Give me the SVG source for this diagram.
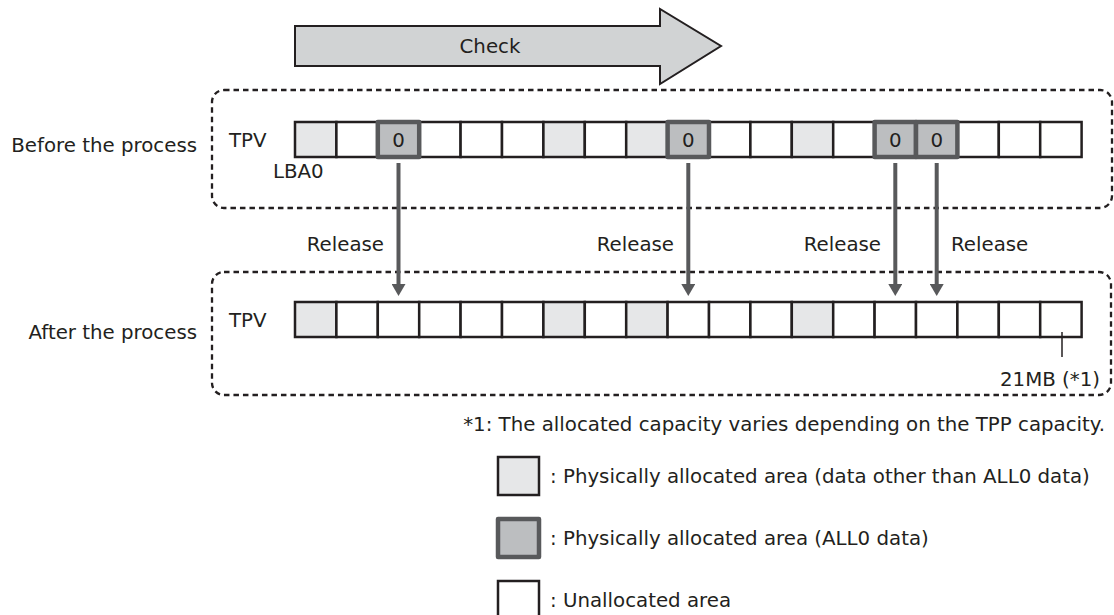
<svg xmlns="http://www.w3.org/2000/svg" width="1114" height="615" viewBox="0 0 1114 615">
  <defs>
    <style>
      text { font-family: "DejaVu Sans", "Noto Sans", sans-serif; font-size: 19.8px; fill: #231f20; }
      .mid { text-anchor: middle; }
      .end { text-anchor: end; }
      .frame { fill: none; stroke: #231f20; stroke-width: 2.3; stroke-dasharray: 5.5 4; }
      .cell { fill: #ffffff; stroke: #231f20; stroke-width: 2.5; }
      .data { fill: #e6e7e8; stroke: #231f20; stroke-width: 2.5; }
      .zero { fill: #bcbec0; stroke: #58595b; stroke-width: 4.5; stroke-linejoin: round; }
      .rel { stroke: #58595b; stroke-width: 4; fill: none; }
    </style>
    <marker id="head" markerUnits="userSpaceOnUse" markerWidth="12" markerHeight="14" refX="0" refY="7" orient="auto" viewBox="0 0 12 14">
      <path d="M0,0 L12,7 L0,14 Z" fill="#58595b"/>
    </marker>
  </defs>

  <!-- scan direction -->
  <g id="check">
    <polygon points="295,26 660,26 660,9 721,46 660,84 660,66 295,66" fill="#d1d3d4" stroke="#231f20" stroke-width="2"/>
    <text class="mid" x="490" y="53">Check</text>
  </g>

  <!-- volume before the release -->
  <g id="before">
    <rect class="frame" x="212" y="90" width="900" height="118" rx="12"/>
    <text class="end" x="197" y="152">Before the process</text>
    <text x="229" y="147">TPV</text>
    <text x="273" y="178">LBA0</text>
    <g>
      <rect class="data" x="295" y="122" width="41.4" height="35"/>
      <rect class="cell" x="336.4" y="122" width="41.4" height="35"/>
      <rect class="cell" x="419.2" y="122" width="41.4" height="35"/>
      <rect class="cell" x="460.6" y="122" width="41.4" height="35"/>
      <rect class="cell" x="502" y="122" width="41.4" height="35"/>
      <rect class="data" x="543.4" y="122" width="41.4" height="35"/>
      <rect class="cell" x="584.8" y="122" width="41.4" height="35"/>
      <rect class="data" x="626.2" y="122" width="41.4" height="35"/>
      <rect class="cell" x="709" y="122" width="41.4" height="35"/>
      <rect class="cell" x="750.4" y="122" width="41.4" height="35"/>
      <rect class="data" x="791.8" y="122" width="41.4" height="35"/>
      <rect class="cell" x="833.2" y="122" width="41.4" height="35"/>
      <rect class="cell" x="957.4" y="122" width="41.4" height="35"/>
      <rect class="cell" x="998.8" y="122" width="41.4" height="35"/>
      <rect class="cell" x="1040.2" y="122" width="41.4" height="35"/>
      <rect class="zero" x="377.8" y="122" width="41.4" height="35"/>
      <rect class="zero" x="667.6" y="122" width="41.4" height="35"/>
      <rect class="zero" x="874.6" y="122" width="41.4" height="35"/>
      <rect class="zero" x="916" y="122" width="41.4" height="35"/>
    </g>
    <text class="mid" x="398.5" y="146.5">0</text>
    <text class="mid" x="688.3" y="146.5">0</text>
    <text class="mid" x="895.3" y="146.5">0</text>
    <text class="mid" x="936.7" y="146.5">0</text>
  </g>

  <!-- volume after the release -->
  <g id="after">
    <rect class="frame" x="212" y="272" width="899" height="123" rx="12"/>
    <text class="end" x="197" y="339">After the process</text>
    <text x="229" y="327">TPV</text>
    <g>
      <rect class="data" x="295" y="302" width="41.4" height="35"/>
      <rect class="cell" x="336.4" y="302" width="41.4" height="35"/>
      <rect class="cell" x="377.8" y="302" width="41.4" height="35"/>
      <rect class="cell" x="419.2" y="302" width="41.4" height="35"/>
      <rect class="cell" x="460.6" y="302" width="41.4" height="35"/>
      <rect class="cell" x="502" y="302" width="41.4" height="35"/>
      <rect class="data" x="543.4" y="302" width="41.4" height="35"/>
      <rect class="cell" x="584.8" y="302" width="41.4" height="35"/>
      <rect class="data" x="626.2" y="302" width="41.4" height="35"/>
      <rect class="cell" x="667.6" y="302" width="41.4" height="35"/>
      <rect class="cell" x="709" y="302" width="41.4" height="35"/>
      <rect class="cell" x="750.4" y="302" width="41.4" height="35"/>
      <rect class="data" x="791.8" y="302" width="41.4" height="35"/>
      <rect class="cell" x="833.2" y="302" width="41.4" height="35"/>
      <rect class="cell" x="874.6" y="302" width="41.4" height="35"/>
      <rect class="cell" x="916" y="302" width="41.4" height="35"/>
      <rect class="cell" x="957.4" y="302" width="41.4" height="35"/>
      <rect class="cell" x="998.8" y="302" width="41.4" height="35"/>
      <rect class="cell" x="1040.2" y="302" width="41.4" height="35"/>
    </g>
    <line x1="1062" y1="332" x2="1062" y2="357" stroke="#231f20" stroke-width="1.5"/>
    <text class="end" x="1100" y="386">21MB (*1)</text>
  </g>

  <!-- release connectors -->
  <g id="connectors">
    <line class="rel" x1="398.5" y1="163" x2="398.5" y2="284" marker-end="url(#head)"/>
    <line class="rel" x1="688.3" y1="163" x2="688.3" y2="284" marker-end="url(#head)"/>
    <line class="rel" x1="895.3" y1="163" x2="895.3" y2="284" marker-end="url(#head)"/>
    <line class="rel" x1="936.7" y1="163" x2="936.7" y2="284" marker-end="url(#head)"/>
    <text class="end" x="384" y="251">Release</text>
    <text class="end" x="674" y="251">Release</text>
    <text class="end" x="881" y="251">Release</text>
    <text x="951" y="251">Release</text>
  </g>

  <text id="note" class="end" x="1105" y="431">*1: The allocated capacity varies depending on the TPP capacity.</text>

  <!-- legend -->
  <g id="legend">
    <rect class="data" x="498" y="457" width="41" height="38"/>
    <text x="550" y="483">: Physically allocated area (data other than ALL0 data)</text>
    <rect class="zero" x="498" y="519" width="41" height="38"/>
    <text x="550" y="545">: Physically allocated area (ALL0 data)</text>
    <rect class="cell" x="498" y="581" width="41" height="38"/>
    <text x="550" y="607">: Unallocated area</text>
  </g>
</svg>
